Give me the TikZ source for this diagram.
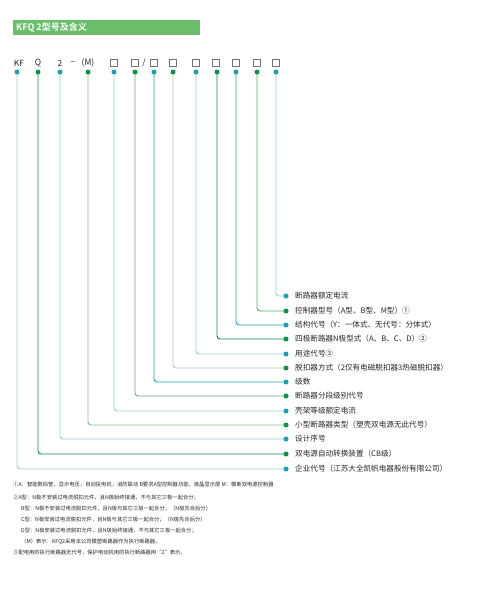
\documentclass[tikz,border=0pt]{standalone}
\usepackage{fontspec}
\setmainfont{Noto Sans CJK SC}
\newfontfamily\cjkb{Noto Sans CJK SC Bold}
\definecolor{teal1}{HTML}{16A2B2}
\definecolor{green1}{HTML}{0B9444}
\definecolor{lblue}{HTML}{9CCAD2}
\definecolor{dgreen}{HTML}{0B8A42}
\definecolor{lgreen}{HTML}{7DC08A}
\definecolor{mgreen}{HTML}{6AAF7A}
\definecolor{tealL}{HTML}{1AA5B0}
\definecolor{pgreen}{HTML}{A8D4A8}
\definecolor{sgreen}{HTML}{4FAF62}
\definecolor{barg}{HTML}{6ABD6A}
\begin{document}
\begin{tikzpicture}[x=1pt,y=-1pt,
  codetxt/.style={inner sep=0pt, font=\fontsize{8.5}{8.5}\selectfont, text=black!85},
  cbox/.style={draw=black!55, line width=0.5pt, minimum width=7pt, minimum height=7pt, inner sep=0pt},
  tdot/.style={circle, fill=teal1, inner sep=0pt, minimum size=5pt},
  gdot/.style={circle, fill=green1, inner sep=0pt, minimum size=5pt},
  lbl/.style={anchor=west, inner sep=0pt, font=\fontsize{7.6}{7.6}\selectfont, text=black!85},
  note/.style={anchor=west, inner sep=0pt, font=\fontsize{5.3}{5.5}\selectfont, text=black!85},
  lead/.style={line width=0.9pt, rounded corners=3pt}]
\useasboundingbox (0,0) rectangle (501,600);
% title bar
\fill[barg] (13,20) rectangle (200,35);
\node[anchor=west, inner sep=0pt, text=white, font=\cjkb\fontsize{9}{9}\selectfont] (title) at (16,27.5) {KFQ 2型号及含义};
% code row
\node[codetxt] (kf) at (19,63) {KF};
\node[codetxt] (q) at (38,63) {Q};
\node[codetxt] (two) at (60,63) {2};
\node[codetxt] (dash) at (73,63) {–};
\node[codetxt] (m) at (88,63) {(M)};
\node[cbox] (b1) at (114,63) {};
\node[cbox] (b2) at (135,63) {};
\node[codetxt] (sl) at (144,63) {/};
\node[cbox] (b3) at (154,63) {};
\node[cbox] (b4) at (173,63) {};
\node[cbox] (b5) at (196,63) {};
\node[cbox] (b6) at (216,63) {};
\node[cbox] (b7) at (236,63) {};
\node[cbox] (b8) at (257,63) {};
\node[cbox] (b9) at (276,63) {};
% top coordinates
\coordinate (t1) at (17,72);
\coordinate (t2) at (38,72);
\coordinate (t3) at (60,72);
\coordinate (t4) at (88,72);
\coordinate (t5) at (114,72);
\coordinate (t6) at (135,72);
\coordinate (t7) at (154,72);
\coordinate (t8) at (173,72);
\coordinate (t9) at (196,72);
\coordinate (t10) at (217,72);
\coordinate (t11) at (236,72);
\coordinate (t12) at (257,72);
\coordinate (t13) at (276,72);
% end coordinates
\coordinate (e13) at (286,296);
\coordinate (e12) at (286,311);
\coordinate (e11) at (286,325);
\coordinate (e10) at (286,339);
\coordinate (e9) at (286,354);
\coordinate (e8) at (286,368);
\coordinate (e7) at (286,382);
\coordinate (e6) at (286,396);
\coordinate (e5) at (286,411);
\coordinate (e4) at (286,425);
\coordinate (e3) at (286,439);
\coordinate (e2) at (286,454);
\coordinate (e1) at (286,469);
% leads
\draw[lead, lblue] (t1) |- (e1);
\draw[lead, dgreen] (t2) |- (e2);
\draw[lead, lblue] (t3) |- (e3);
\draw[lead, lgreen] (t4) |- (e4);
\draw[lead, lblue] (t5) |- (e5);
\draw[lead, mgreen] (t6) |- (e6);
\draw[lead, tealL] (t7) |- (e7);
\draw[lead, pgreen] (t8) |- (e8);
\draw[lead, lblue] (t9) |- (e9);
\draw[lead, dgreen] (t10) |- (e10);
\draw[lead, tealL] (t11) |- (e11);
\draw[lead, sgreen] (t12) |- (e12);
\draw[lead, lblue] (t13) |- (e13);
% dots
\foreach \i in {1,3,5,7,9,11,13} {\node[tdot] at (t\i) {}; \node[tdot] at (e\i) {};}
\foreach \i in {2,4,6,8,10,12} {\node[gdot] at (t\i) {}; \node[gdot] at (e\i) {};}
% labels
\node[lbl] (l13) at (295,296) {断路器额定电流};
\node[lbl] (l12) at (295,311) {控制器型号（A型、B型、M型）①};
\node[lbl] (l11) at (295,325) {结构代号（Y：一体式、无代号：分体式）};
\node[lbl] (l10) at (295,339) {四极断路器N极型式（A、B、C、D）②};
\node[lbl] (l9) at (295,354) {用途代号③};
\node[lbl] (l8) at (295,368) {脱扣器方式（2仅有电磁脱扣器3热磁脱扣器）};
\node[lbl] (l7) at (295,382) {级数};
\node[lbl] (l6) at (295,396) {断路器分段级别代号};
\node[lbl] (l5) at (295,411) {壳架等级额定电流};
\node[lbl] (l4) at (295,425) {小型断路器类型（塑壳双电源无此代号）};
\node[lbl] (l3) at (295,439) {设计序号};
\node[lbl] (l2) at (295,454) {双电源自动转换装置（CB级）};
\node[lbl] (l1) at (295,469) {企业代号（江苏大全凯帆电器股份有限公司）};
% notes
\node[note] (n1) at (13,485) {①A：智能数码管，显示电压，自动投电机，消防联动 B要求A型控制器功能，液晶显示屏 M：模断双电源控制器};
\node[note] (n2) at (13,498) {②A型：N极不安装过电流脱扣元件，且N极始终接通，不与其它三极一起合分；};
\node[note] (n3) at (21,509) {B型：N极不安装过电流脱扣元件，且N极与其它三极一起合分；（N极先合后分）};
\node[note] (n4) at (21,520) {C型：N极安装过电流脱扣元件，且N极与其它三极一起合分；（N极先合后分）};
\node[note] (n5) at (21,531) {D型：N极安装过电流脱扣元件，且N极始终接通，不与其它三极一起合分；};
\node[note] (n6) at (21,542) {（M）表示：KFQ2采用本公司模塑断路器作为执行断路器。};
\node[note] (n7) at (13,553) {③配电用的执行断路器无代号，保护电动机用的执行断路器用“2”表示。};
\end{tikzpicture}
\end{document}
